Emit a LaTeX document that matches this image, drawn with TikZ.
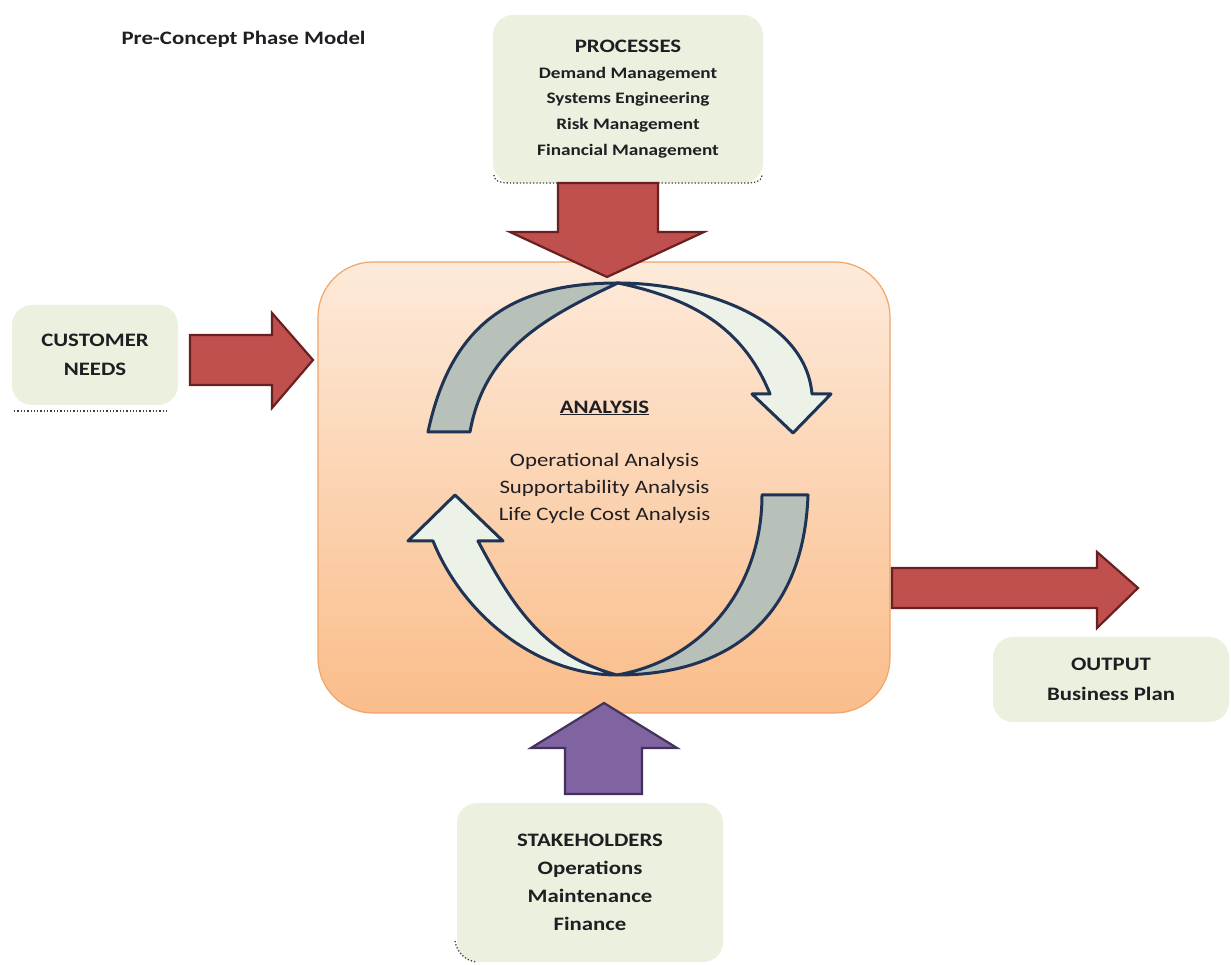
\documentclass[tikz,border=0pt]{standalone}
\usepackage{fontspec}
\setmainfont{Carlito}[FakeStretch=1.2]
\usetikzlibrary{positioning}
\definecolor{boxgreen}{RGB}{235,241,222}
\definecolor{anatop}{RGB}{253,234,218}
\definecolor{anabottom}{RGB}{250,189,138}
\definecolor{anaedge}{RGB}{240,165,105}
\definecolor{arrowred}{RGB}{192,80,77}
\definecolor{arrowredline}{RGB}{105,32,32}
\definecolor{arrowpurple}{RGB}{128,100,162}
\definecolor{arrowpurpleline}{RGB}{66,50,92}
\definecolor{lobegray}{RGB}{184,192,186}
\definecolor{lobelight}{RGB}{236,242,232}
\definecolor{lobeline}{RGB}{31,52,84}
\definecolor{textdark}{RGB}{30,30,35}
\begin{document}
\begin{tikzpicture}[x=1pt,y=1pt,
    every node/.style={text=textdark},
    headfont/.style={font=\bfseries\fontsize{19}{29}\selectfont},
    greenbox/.style={fill=boxgreen, rounded corners=20pt, align=center, inner sep=0pt, headfont},
    anabox/.style={draw=anaedge, line width=1.2pt, rounded corners=55pt, top color=anatop, bottom color=anabottom,
      minimum width=572pt, minimum height=451pt},
    redarrow/.style={fill=arrowred, draw=arrowredline, line width=2.2pt},
    purplearrow/.style={fill=arrowpurple, draw=arrowpurpleline, line width=2.2pt},
    lobe/.style={draw=lobeline, line width=3pt, line join=round},
    dotline/.style={dotted, line width=1.3pt, black!75}]
  \useasboundingbox (0,0) rectangle (1231,965);
  \fill[white] (0,0) rectangle (1231,965);
  % title
  \node[anchor=base west, headfont] (title) at (118,920) {Pre-Concept Phase Model};
  % central box
  \node[anabox] (ana) at (604,477.5) {};
  % circular arrows
  \draw[lobe, fill=lobegray] (428,533) to[out=78, in=180, looseness=1.15] (618,682)
    to[out=205, in=80] (470,533) -- cycle;
  \draw[lobe, fill=lobelight] (618,682) to[out=0, in=95, looseness=0.9] (812,571) -- (831,571)
    -- (793,532) -- (752,571) -- (770,571) to[out=112, in=-12] (618,682) -- cycle;
  \draw[lobe, fill=lobegray] (808,470) to[out=-92, in=0, looseness=1.15] (617,290)
    to[out=10, in=-90] (762,470) -- cycle;
  \draw[lobe, fill=lobelight] (617,290) to[out=180, in=-68, looseness=0.9] (433,424) -- (408,424) -- (455,470)
    -- (503,424) -- (478,424) to[out=-62, in=165] (617,290) -- cycle;
  \node[headfont] (anatitle) at (604.5,557) {\underline{ANALYSIS}};
  \node[on grid, below=80pt of anatitle, align=center, font=\fontsize{19}{27}\selectfont] (analist)
    {Operational Analysis\\Supportability Analysis\\Life Cycle Cost Analysis};
  % input and output boxes
  \node[greenbox, minimum width=166pt, minimum height=100pt] (cust) at (95,610) {CUSTOMER\\NEEDS};
  \node[greenbox, minimum width=270pt, minimum height=168pt, font=\bfseries\fontsize{16}{25.7}\selectfont] (proc) at (628,866)
    {{\fontsize{19}{25.7}\selectfont PROCESSES}\\Demand Management\\Systems Engineering\\Risk Management\\Financial Management};
  \node[greenbox, minimum width=266pt, minimum height=159pt, font=\bfseries\fontsize{19}{28}\selectfont] (stake) at (590,82.5)
    {STAKEHOLDERS\\Operations\\Maintenance\\Finance};
  \node[greenbox, minimum width=236pt, minimum height=85pt, font=\bfseries\fontsize{19}{30}\selectfont] (out) at (1111,285.5)
    {OUTPUT\\Business Plan};
  \draw[dotline] (14,554) -- (166,554);
  \draw[dotline] (494,790) to[out=-90, in=180] (512,782) -- (745,782) to[out=0, in=-90] (762,790);
  \draw[dotline] (455,24) to[out=-80, in=170] (476,3);
  % block arrows
  \draw[redarrow] (558,782) -- (658,782) -- (658,733) -- (704,733) -- (607,688) -- (510,733) -- (558,733) -- cycle;
  \draw[redarrow] (190,630) -- (272,630) -- (272,652) -- (313,605) -- (272,557) -- (272,580) -- (190,580) -- cycle;
  \draw[redarrow] (892,397) -- (1097,397) -- (1097,413) -- (1138,377) -- (1097,337) -- (1097,357) -- (892,357) -- cycle;
  \draw[purplearrow] (565,171) -- (642,171) -- (642,217) -- (677,217) -- (604,262) -- (531,217) -- (565,217) -- cycle;
\end{tikzpicture}
\end{document}
